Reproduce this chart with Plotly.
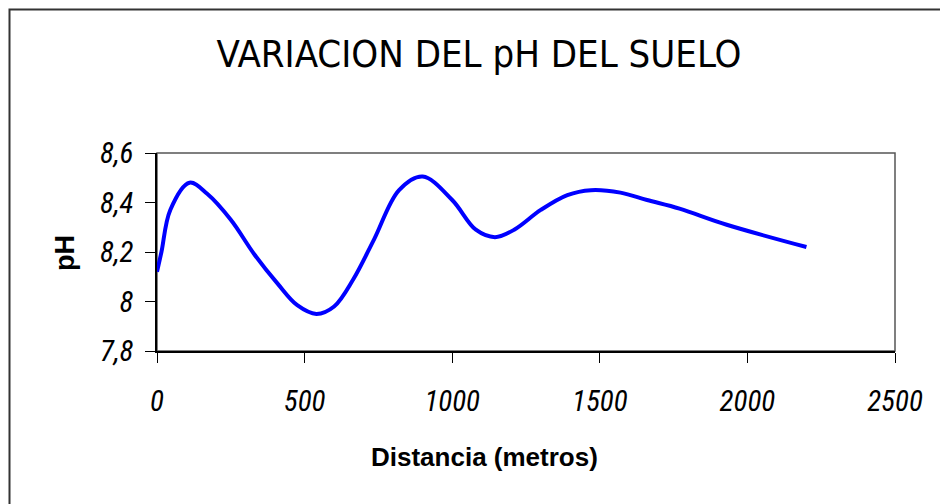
import plotly.graph_objects as go

# Soil pH measured along the transect
distancia_m = [0, 15, 45, 110, 170, 250, 330, 410, 475, 540, 600, 665, 735, 820, 900, 1000, 1080, 1145, 1210, 1300, 1390, 1470, 1570, 1660, 1770, 1930, 2200]
ph = [8.12, 8.20, 8.37, 8.48, 8.435, 8.33, 8.19, 8.07, 7.985, 7.95, 7.98, 8.09, 8.25, 8.45, 8.505, 8.41, 8.29, 8.26, 8.29, 8.37, 8.43, 8.45, 8.44, 8.41, 8.375, 8.31, 8.22]

x_ticks = [0, 500, 1000, 1500, 2000, 2500]
x_tick_labels = ["0", "500", "1000", "1500", "2000", "2500"]
y_ticks = [7.8, 8.0, 8.2, 8.4, 8.6]
y_tick_labels = ["7,8", "8", "8,2", "8,4", "8,6"]

W, H = 940, 504
L, R, T, B = 157, 45, 153, 153
pw, ph_px = W - L - R, H - T - B


def px_x(p):
    return (p - L) / pw


def px_y(p):
    return (H - B - p) / ph_px


title_font = "DejaVu Sans Condensed, Liberation Sans, sans-serif"
tick_font = "Roboto Condensed, Liberation Sans, sans-serif"
bold = "Liberation Sans, Arial, sans-serif"

fig = go.Figure()
fig.add_trace(go.Scatter(
    x=distancia_m, y=ph, mode="lines",
    line=dict(color="#0000FF", width=4, shape="spline", smoothing=1.0),
    showlegend=False, hoverinfo="x+y",
))

axis_common = dict(
    showgrid=False, zeroline=False, showline=True, linecolor="#000000", linewidth=1.5,
    ticks="outside", ticklen=10, tickwidth=1.2, tickcolor="#000000",
    tickfont=dict(family=tick_font, size=29, color="#000000", style="italic"),
)

fig.update_xaxes(range=[0, 2500], tickmode="array", tickvals=x_ticks, ticktext=x_tick_labels,
                 ticklabelstandoff=13, **axis_common)
fig.update_yaxes(range=[7.8, 8.6], tickmode="array", tickvals=y_ticks, ticktext=y_tick_labels,
                 ticklabelstandoff=6, **axis_common)

shapes = [
    # plot-area frame (top and right edges)
    dict(type="rect", xref="x domain", yref="y domain", x0=0, x1=1, y0=0, y1=1,
         line=dict(color="#555555", width=1.5), layer="below"),
    # chart-area border
    dict(type="rect", xref="paper", yref="paper",
         x0=px_x(9.5), x1=px_x(W + 20), y0=px_y(H + 20), y1=px_y(9.5),
         line=dict(color="#333333", width=2), layer="below"),
]

annotations = [
    dict(text="Distancia (metros)", xref="paper", yref="paper", x=px_x(484), y=px_y(457),
         xanchor="center", yanchor="middle", showarrow=False,
         font=dict(family=bold, size=26, color="#000000", weight="bold")),
    dict(text="pH", xref="paper", yref="paper", x=px_x(65), y=px_y(253), textangle=-90,
         xanchor="center", yanchor="middle", showarrow=False,
         font=dict(family=bold, size=27, color="#000000", weight="bold")),
]

fig.update_layout(
    width=W, height=H, autosize=False,
    margin=dict(l=L, r=R, t=T, b=B, pad=0),
    paper_bgcolor="#FFFFFF", plot_bgcolor="#FFFFFF",
    title=dict(text="VARIACION DEL pH DEL SUELO", xref="container", yref="container",
               x=479 / W, y=1 - 54 / H, xanchor="center", yanchor="middle",
               font=dict(family=title_font, size=38, color="#000000")),
    shapes=shapes, annotations=annotations,
)

fig.write_html("out.html")
